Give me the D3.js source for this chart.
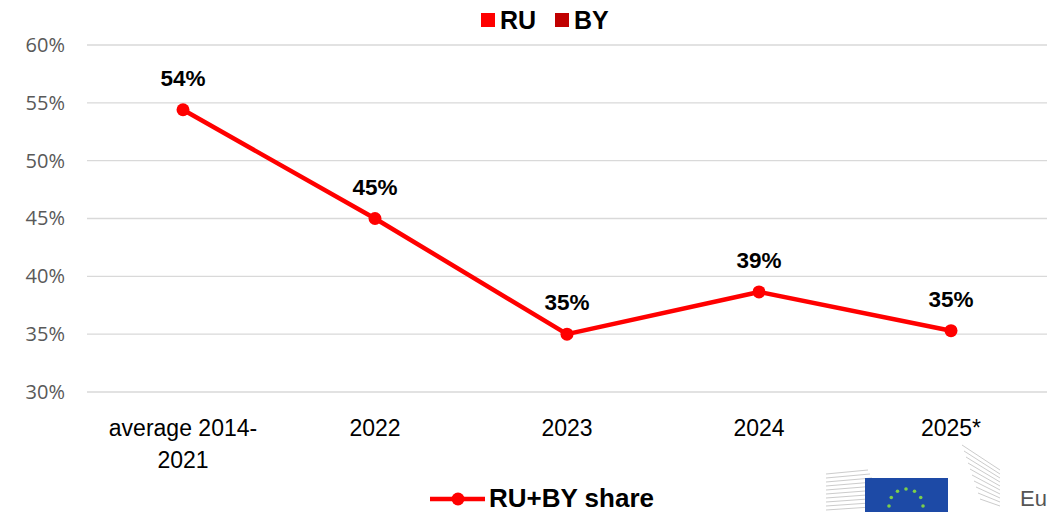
<!DOCTYPE html>
<html>
<head>
<meta charset="utf-8">
<script src="https://cdn.jsdelivr.net/npm/d3@7"></script>
<style>
  body { margin: 0; background: #fff; }
  svg { display: block; font-family: "Open Sans", "Liberation Sans", sans-serif; }
</style>
</head>
<body>
<svg width="1049" height="512"></svg>
<script>
// data
var categories = [["average 2014-", "2021"], ["2022"], ["2023"], ["2024"], ["2025*"]];
var shareValues = [54.4, 45.0, 35.0, 38.65, 35.3];
var shareLabels = ["54%", "45%", "35%", "39%", "35%"];
var yTicks = [30, 35, 40, 45, 50, 55, 60];

var svg = d3.select("svg");
var marge = { top: 45, bottom: 120, left: 87, right: 2 };
var width = 1049 - marge.left - marge.right;
var height = 392 - marge.top;

var g = svg.append("g").attr("transform", "translate(" + marge.left + "," + marge.top + ")");

var x = d3.scaleBand().domain(d3.range(categories.length)).range([0, width]);
var y = d3.scaleLinear().domain([30, 60]).range([height, 0]);

// gridlines
g.selectAll(".grid")
  .data(yTicks)
  .enter()
  .append("line")
  .attr("x1", 0)
  .attr("x2", width)
  .attr("y1", function(d) { return y(d); })
  .attr("y2", function(d) { return y(d); })
  .attr("stroke", "#d9d9d9")
  .attr("stroke-width", 1.3);

// y axis labels
var yAxis = d3.axisLeft(y).tickValues(yTicks).tickSize(0).tickPadding(22)
  .tickFormat(function(d) { return d + "%"; });
g.append("g").call(yAxis)
  .call(function(a) { a.select(".domain").remove(); })
  .selectAll("text")
  .attr("font-size", 20)
  .attr("fill", "#595959")
  .style("font-family", "'Open Sans', sans-serif");

// x labels
var xl = g.selectAll(".xlab")
  .data(categories)
  .enter()
  .append("text")
  .attr("text-anchor", "middle")
  .attr("font-size", 23)
  .attr("fill", "#000")
  .style("font-family", "'Liberation Sans', sans-serif")
  .attr("transform", function(d, i) { return "translate(" + (x(i) + x.bandwidth() / 2) + "," + (height + 44) + ")"; });
xl.selectAll("tspan")
  .data(function(d) { return d; })
  .enter()
  .append("tspan")
  .attr("x", 0)
  .attr("dy", function(d, i) { return i === 0 ? 0 : 32; })
  .text(function(d) { return d; });

// line
var cx = function(d, i) { return x(i) + x.bandwidth() / 2; };
var line = d3.line().x(cx).y(function(d) { return y(d); });
g.append("path")
  .datum(shareValues)
  .attr("d", line)
  .attr("fill", "none")
  .attr("stroke", "#ff0000")
  .attr("stroke-width", 4.5)
  .attr("stroke-linejoin", "round");

g.selectAll(".pt")
  .data(shareValues)
  .enter()
  .append("circle")
  .attr("cx", cx)
  .attr("cy", function(d) { return y(d); })
  .attr("r", 6.5)
  .attr("fill", "#ff0000");

g.selectAll(".lbl")
  .data(shareValues)
  .enter()
  .append("text")
  .attr("x", cx)
  .attr("y", function(d) { return y(d) - 24; })
  .attr("text-anchor", "middle")
  .attr("font-size", 22.5)
  .attr("font-weight", "bold")
  .style("font-family", "'Liberation Sans', sans-serif")
  .text(function(d, i) { return shareLabels[i]; });

// top legend
var topLegend = [{ name: "RU", color: "#ff0000", x: 481 }, { name: "BY", color: "#c00000", x: 555 }];
var tl = svg.selectAll(".tl").data(topLegend).enter().append("g")
  .attr("transform", function(d) { return "translate(" + d.x + ",13)"; });
tl.append("rect").attr("width", 14).attr("height", 14).attr("fill", function(d) { return d.color; });
tl.append("text").attr("x", 19).attr("y", 16)
  .attr("font-size", 25).attr("font-weight", "bold")
  .style("font-family", "'Liberation Sans', sans-serif")
  .text(function(d) { return d.name; });

// bottom legend
var bl = svg.append("g").attr("transform", "translate(430,499)");
bl.append("line").attr("x1", 0).attr("x2", 55).attr("stroke", "#ff0000").attr("stroke-width", 4.5);
bl.append("circle").attr("cx", 28).attr("r", 6.5).attr("fill", "#ff0000");
bl.append("text").attr("x", 59).attr("y", 8)
  .attr("font-size", 26).attr("font-weight", "bold")
  .style("font-family", "'Liberation Sans', sans-serif")
  .text("RU+BY share");

// EU logo (rough)
var logo = svg.append("g");
for (var k = 0; k < 10; k++) {
  logo.append("line").attr("x1", 826).attr("x2", 868 + k * 2).attr("y1", 474 + k * 4).attr("y2", 470 + k * 4)
    .attr("stroke", "#ccc").attr("stroke-width", 1);
  logo.append("line").attr("x1", 962 + k * 2).attr("x2", 1000).attr("y1", 445 + k * 6).attr("y2", 470 + k * 4)
    .attr("stroke", "#ccc").attr("stroke-width", 1);
}
logo.append("rect").attr("x", 865).attr("y", 478).attr("width", 83).attr("height", 40).attr("fill", "#1d4aa6");
d3.range(12).forEach(function(s) {
  var a = s / 12 * Math.PI * 2;
  logo.append("circle").attr("cx", 906 + 17 * Math.sin(a)).attr("cy", 506 - 17 * Math.cos(a)).attr("r", 1.8).attr("fill", "#7ccf4a");
});
logo.append("text").attr("x", 1020).attr("y", 506).attr("font-size", 22).attr("fill", "#555")
  .style("font-family", "'Liberation Sans', sans-serif").text("Eu");
</script>
</body>
</html>
